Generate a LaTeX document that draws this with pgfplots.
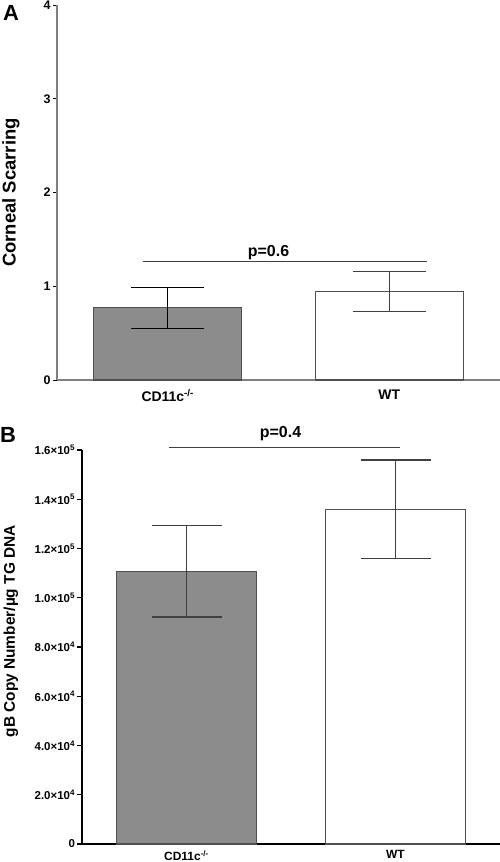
\documentclass[border=0pt]{standalone}
\usepackage{fontspec}
\setmainfont{Liberation Sans}
\usepackage{pgfplots}
\pgfplotsset{compat=1.18}
\definecolor{barfill}{HTML}{8C8C8C}
\definecolor{axgray}{HTML}{808080}
\definecolor{edgeA}{HTML}{505050}
\definecolor{errA}{HTML}{404040}
\begin{document}
\begin{tikzpicture}
\useasboundingbox (0,0) rectangle (500bp,862bp);
% ---------------- Panel A ----------------
\begin{axis}[
  at={(57bp,482bp)}, anchor=south west,
  scale only axis, width=443bp, height=375bp,
  xmin=-0.5, xmax=1.5, ymin=0, ymax=4,
  axis x line*=bottom, axis y line*=left,
  axis line style={-, draw=axgray, line width=1.5bp},
  xtick={0,1}, xticklabels={CD11c\textsuperscript{-/-}, WT},
  ytick={0,1,2,3,4},
  xtick style={draw=none},
  ytick style={draw=black, line width=0.8bp},
  major tick length=4bp, tick align=outside,
  yticklabel style={font=\fontsize{12.5}{14}\selectfont\bfseries, xshift=1bp},
  xticklabel style={font=\fontsize{14}{16}\selectfont\bfseries, yshift=-2bp},
  ylabel={Corneal Scarring},
  ylabel style={at={(axis description cs:-0.104,0.5)}, anchor=center, rotate=0,
    font=\fontsize{18.5}{20}\selectfont\bfseries},
  clip=false,
  /pgf/number format/assume math mode=true,
]
\addplot[ybar, bar width=0.667, bar shift=0pt, fill=barfill, draw=edgeA, line width=1.2bp,
  error bars/.cd, y dir=both, y explicit,
  error bar style={line width=1.2bp, draw=black},
  error mark options={rotate=90, line width=1.2bp, mark size=36.5bp, draw=black}]
  coordinates {(0,0.77) +- (0,0.22)};
\addplot[ybar, bar width=0.667, bar shift=0pt, fill=white, draw=edgeA, line width=1.2bp,
  error bars/.cd, y dir=both, y explicit,
  error bar style={line width=1.2bp, draw=errA},
  error mark options={rotate=90, line width=1.2bp, mark size=36.5bp, draw=errA}]
  coordinates {(1,0.945) +- (0,0.215)};
\addplot[draw=errA, line width=1.2bp] coordinates {(-0.113,1.26) (1.17,1.26)};
\node[font=\fontsize{16}{18}\selectfont\bfseries] at (axis cs:0.455,1.36) {p=0.6};
\end{axis}
% ---------------- Panel B ----------------
\begin{axis}[
  at={(82bp,18bp)}, anchor=south west,
  scale only axis, width=418bp, height=394bp,
  xmin=-0.5, xmax=1.5, ymin=0, ymax=160000,
  axis x line*=bottom, axis y line*=left,
  axis line style={-, draw=black, line width=1.5bp},
  xtick={0,1}, xticklabels={CD11c\textsuperscript{-/-}, WT},
  ytick={0,20000,40000,60000,80000,100000,120000,140000,160000},
  yticklabels={0, 2.0×10\textsuperscript{4}, 4.0×10\textsuperscript{4}, 6.0×10\textsuperscript{4}, 8.0×10\textsuperscript{4}, 1.0×10\textsuperscript{5}, 1.2×10\textsuperscript{5}, 1.4×10\textsuperscript{5}, 1.6×10\textsuperscript{5}},
  scaled y ticks=false,
  xtick style={draw=none},
  ytick style={draw=black, line width=1.2bp},
  major tick length=5bp, tick align=outside,
  yticklabel style={font=\fontsize{11.5}{13}\selectfont\bfseries, xshift=1.5bp},
  xticklabel style={font=\fontsize{12}{14}\selectfont\bfseries, yshift=2bp},
  ylabel={gB Copy Number/µg TG DNA},
  ylabel style={at={(axis description cs:-0.170,0.54)}, anchor=center, rotate=0,
    font=\fontsize{15.5}{17}\selectfont\bfseries},
  clip=false,
]
\addplot[ybar, bar width=0.667, bar shift=0pt, fill=barfill, draw=edgeA, line width=1.2bp,
  error bars/.cd, y dir=both, y explicit,
  error bar style={line width=1.2bp, draw=errA},
  error mark options={rotate=90, line width=1.2bp, mark size=35bp, draw=errA}]
  coordinates {(0,110700) +- (0,18500)};
\addplot[ybar, bar width=0.667, bar shift=0pt, fill=white, draw=edgeA, line width=1.2bp,
  error bars/.cd, y dir=both, y explicit,
  error bar style={line width=1.2bp, draw=errA},
  error mark options={rotate=90, line width=1.2bp, mark size=35bp, draw=errA}]
  coordinates {(1,135900) +- (0,20000)};
\addplot[draw=errA, line width=1.2bp] coordinates {(-0.082,161000) (1.02,161000)};
\node[font=\fontsize{16}{18}\selectfont\bfseries] at (axis cs:0.45,166500) {p=0.4};
\end{axis}
% panel letters
\node[font=\fontsize{22}{24}\selectfont\bfseries] at (11bp,849bp) {A};
\node[font=\fontsize{22}{24}\selectfont\bfseries] at (8bp,427bp) {B};
\end{tikzpicture}
\end{document}
